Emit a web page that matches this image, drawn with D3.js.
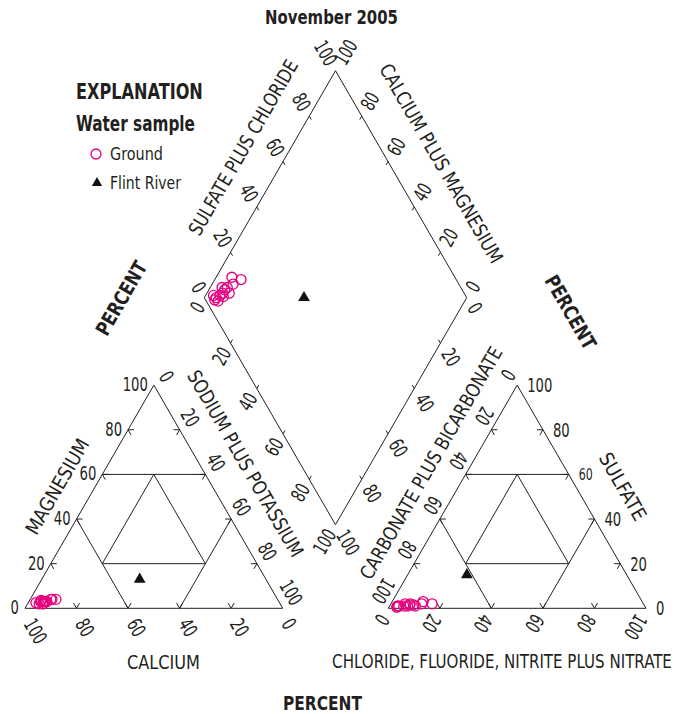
<!DOCTYPE html>
<html>
<head>
<meta charset="utf-8">
<script src="https://cdn.jsdelivr.net/npm/d3@7"></script>
<style>
  body { margin: 0; background: #fff; }
  text { font-family: "DejaVu Sans Condensed", "Liberation Sans Narrow", sans-serif; fill: #231f20; }
</style>
</head>
<body>
<svg id="chart" width="676" height="714"></svg>
<script>
// Ground-water samples, percent of total milliequivalents per liter
const groundCa   = [86, 91, 88, 90.5, 91, 92, 91.5, 93.5, 92.5, 92, 90, 87.5, 94.5, 92];
const groundMg   = [4, 3, 4, 3, 3, 2, 3, 2, 3, 2, 3, 4, 2.5, 3.5];
const groundNaK  = [10, 6, 8, 6.5, 6, 6, 5.5, 4.5, 4.5, 6, 7, 8.5, 3, 4.5];
const groundHCO3 = [82, 85, 86, 89, 90.5, 92, 93.5, 95.5, 96.5, 95.5, 92.5, 89.5, 96, 91];
const groundSO4  = [2, 3, 2, 1, 2, 1, 1, 1, 0.5, 1, 2, 1.5, 1, 1.5];
const groundCl   = [16, 12, 12, 10, 7.5, 7, 5.5, 3.5, 3, 3.5, 5.5, 9, 3, 7.5];

// Flint River sample
const riverCa   = [49];
const riverMg   = [13];
const riverNaK  = [38];
const riverHCO3 = [62];
const riverSO4  = [15];
const riverCl   = [23];

const tickValues = [0, 20, 40, 60, 80, 100];
const innerTicks = [20, 40, 60, 80];

const INK = "#231f20";
const PINK = "#e6007e";

const svg = d3.select("#chart");

// ---- geometry --------------------------------------------------------
const side = 257.7, height = side * Math.sqrt(3) / 2;
const pct = d3.scaleLinear().domain([0, 100]).range([0, 1]);

// ternary frame: r = right-vertex share, t = top-vertex share
function ternary(ox, oy) {
  const xs = d3.scaleLinear().domain([0, 1]).range([ox, ox + side]);
  const ys = d3.scaleLinear().domain([0, 1]).range([oy, oy - height]);
  return (r, t) => [xs(r + t / 2), ys(t)];
}
const cation = ternary(25, 608.3);    // Ca (left), Na+K (right), Mg (top)
const anion  = ternary(388.3, 608.3); // HCO3 (left), Cl (right), SO4 (top)

// diamond: a = sulfate plus chloride share, c = sodium plus potassium share
const dL = [204.3, 297.7], dT = [335.5, 70.7], dB = [335.5, 524.7];
const dR = [dT[0] + dB[0] - dL[0], dT[1] + dB[1] - dL[1]];
const dX = d3.scaleLinear().domain([0, 2]).range([dL[0], dR[0]]);
const dY = d3.scaleLinear().domain([-1, 1]).range([dB[1], dT[1]]);
const diamond = (a, c) => [dX(a + c), dY(a - c)];

const line = d3.line();
const g = svg.append("g").attr("fill", "none").attr("stroke", INK).attr("stroke-width", 1);

// ---- triangles -------------------------------------------------------
const C60 = 0.5, S60 = Math.sqrt(3) / 2;
function drawTriangle(P) {
  g.append("path").attr("d", line([P(0, 0), P(1, 0), P(0, 1)]) + "Z");
  // 60-percent dividing lines
  g.append("path").attr("d", line([P(0, 0.6), P(0.4, 0.6)]));
  g.append("path").attr("d", line([P(0, 0.4), P(0.4, 0)]));
  g.append("path").attr("d", line([P(0.6, 0), P(0.6, 0.4)]));
  // central 20-percent triangle
  g.append("path").attr("d", line([P(0.2, 0.6), P(0.2, 0.2), P(0.6, 0.2)]) + "Z");
  // chevron ticks along each edge
  const L = 6;
  innerTicks.forEach(v => {
    const f = pct(v);
    const marks = [
      [P(f, 0), [C60, -S60], [-C60, -S60]],
      [P(0, f), [1, 0], [C60, S60]],
      [P(1 - f, f), [-1, 0], [-C60, S60]]
    ];
    marks.forEach(([p, d1, d2]) => {
      g.append("path").attr("d", line([
        [p[0] + d1[0] * L, p[1] + d1[1] * L], p, [p[0] + d2[0] * L, p[1] + d2[1] * L]
      ]));
    });
  });
}
drawTriangle(cation);
drawTriangle(anion);

// ---- diamond ---------------------------------------------------------
g.append("path").attr("d", line([dL, dT, dR, dB]) + "Z");
innerTicks.forEach(v => {
  const f = pct(v);
  const tk = [
    [diamond(f, 0), [C60, S60]],
    [diamond(1, f), [-C60, S60]],
    [diamond(0, f), [C60, -S60]],
    [diamond(f, 1), [-C60, -S60]]
  ];
  tk.forEach(([p, d]) => {
    g.append("path").attr("d", line([p, [p[0] + d[0] * 4, p[1] + d[1] * 4]]));
  });
});

// ---- text helper: condensed to a target length ------------------------
function putText(x, y, txt, opts) {
  const t = svg.append("text")
    .attr("x", 0).attr("y", 0)
    .attr("text-anchor", opts.anchor || "middle")
    .attr("dominant-baseline", "central")
    .attr("font-size", opts.size)
    .attr("font-weight", opts.bold ? "bold" : null)
    .text(txt);
  const natural = t.node().getComputedTextLength();
  const k = opts.len ? opts.len / natural : 1;
  t.attr("transform", `translate(${x},${y}) rotate(${opts.rot || 0}) scale(${k},1)`);
  return t;
}

// ---- tick labels -----------------------------------------------------
const DIGIT = 8.4;
function label(p, off, v, rot, anchor, small) {
  const s = String(v);
  putText(p[0] + off[0], p[1] + off[1], s, {
    rot, anchor, size: small ? 16 : 20, len: (small ? 7 : DIGIT) * s.length
  });
}

tickValues.forEach(v => {
  const f = pct(v);
  // cation triangle
  label(cation(0, f), [-6, -1], v, 0, "end");                     // magnesium
  label(cation(1 - f, 0), [4, 12], v, 60, "start");               // calcium
  label(cation(f, 1 - f), [14.5, -4.7], v, 60, "end");            // sodium plus potassium
  // anion triangle
  label(anion(1 - f, f), [10, 0], v, 0, "start", v === 60);       // sulfate
  label(anion(f, 0), [-4.3, 7.6], v, 120, "start");               // chloride, fluoride, ...
  label(anion(0, 1 - f), [-11.5, -6.6], v, 120, "end");           // carbonate plus bicarbonate
  // diamond
  label(diamond(f, 0), [-3.8, -6.6], v, 60, "end");               // sulfate plus chloride
  label(diamond(1, 1 - f), [4.25, -7.4], v, -60, "start");        // calcium plus magnesium
  label(diamond(0, f), [-4.5, 6], v, -60, "end");                 // sodium plus potassium
  label(diamond(1 - f, 1), [6, 7], v, 60, "start");               // carbonate plus bicarbonate
});

// ---- axis titles -----------------------------------------------------
function title(x, y, txt, rot, len, size, bold) {
  putText(x, y, txt, { rot, len, size, bold });
}
title(57.5, 486.7, "MAGNESIUM", -60, 107, 19.5);
title(163.5, 662.5, "CALCIUM", 0, 73, 19.5);
title(245.8, 463.3, "SODIUM PLUS POTASSIUM", 60, 212, 19.5);
title(243.3, 147.5, "SULFATE PLUS CHLORIDE", -60, 199, 19.5);
title(441.7, 163.3, "CALCIUM PLUS MAGNESIUM", 60, 227, 19.5);
title(431, 463, "CARBONATE PLUS BICARBONATE", -60, 265, 19.5);
title(622.5, 486.7, "SULFATE", 60, 75, 19.5);
title(502, 661.5, "CHLORIDE, FLUORIDE, NITRITE PLUS NITRATE", 0, 340, 19.5);
title(121, 298, "PERCENT", -60, 82, 20, true);
title(571, 312, "PERCENT", 60, 82, 20, true);
title(322.5, 703, "PERCENT", 0, 79, 20, true);
title(331.5, 17, "November 2005", 0, 133, 19.5, true);

// ---- explanation -----------------------------------------------------
function legendText(x, y, txt, len, size, bold) {
  putText(x, y, txt, { anchor: "start", len, size, bold });
}
legendText(76, 92, "EXPLANATION", 127, 21, true);
legendText(76, 124, "Water sample", 119, 21, true);
svg.append("circle").attr("cx", 96).attr("cy", 154).attr("r", 5)
  .attr("fill", "none").attr("stroke", PINK).attr("stroke-width", 1.3);
legendText(110, 154, "Ground", 53, 18);
const triSym = d3.symbol().type(d3.symbolTriangle);
svg.append("path").attr("d", triSym.size(45)()).attr("transform", "translate(97,183)").attr("fill", "#111");
legendText(110, 183, "Flint River", 71, 18);

// ---- samples ---------------------------------------------------------
const ground = groundCa.map((d, i) => ({
  mg: pct(groundMg[i]), nak: pct(groundNaK[i]),
  so4: pct(groundSO4[i]), cl: pct(groundCl[i])
}));
const river = riverCa.map((d, i) => ({
  mg: pct(riverMg[i]), nak: pct(riverNaK[i]),
  so4: pct(riverSO4[i]), cl: pct(riverCl[i])
}));

function plotPoints(data, draw) {
  data.forEach(d => {
    draw(cation(d.nak, d.mg));
    draw(anion(d.cl, d.so4));
    draw(diamond(d.so4 + d.cl, d.nak));
  });
}
plotPoints(ground, p => svg.append("circle").attr("cx", p[0]).attr("cy", p[1]).attr("r", 5)
  .attr("fill", "none").attr("stroke", PINK).attr("stroke-width", 1.3));
plotPoints(river, p => svg.append("path").attr("d", triSym.size(60)())
  .attr("transform", `translate(${p[0]},${p[1]})`).attr("fill", "#111"));
</script>
</body>
</html>
